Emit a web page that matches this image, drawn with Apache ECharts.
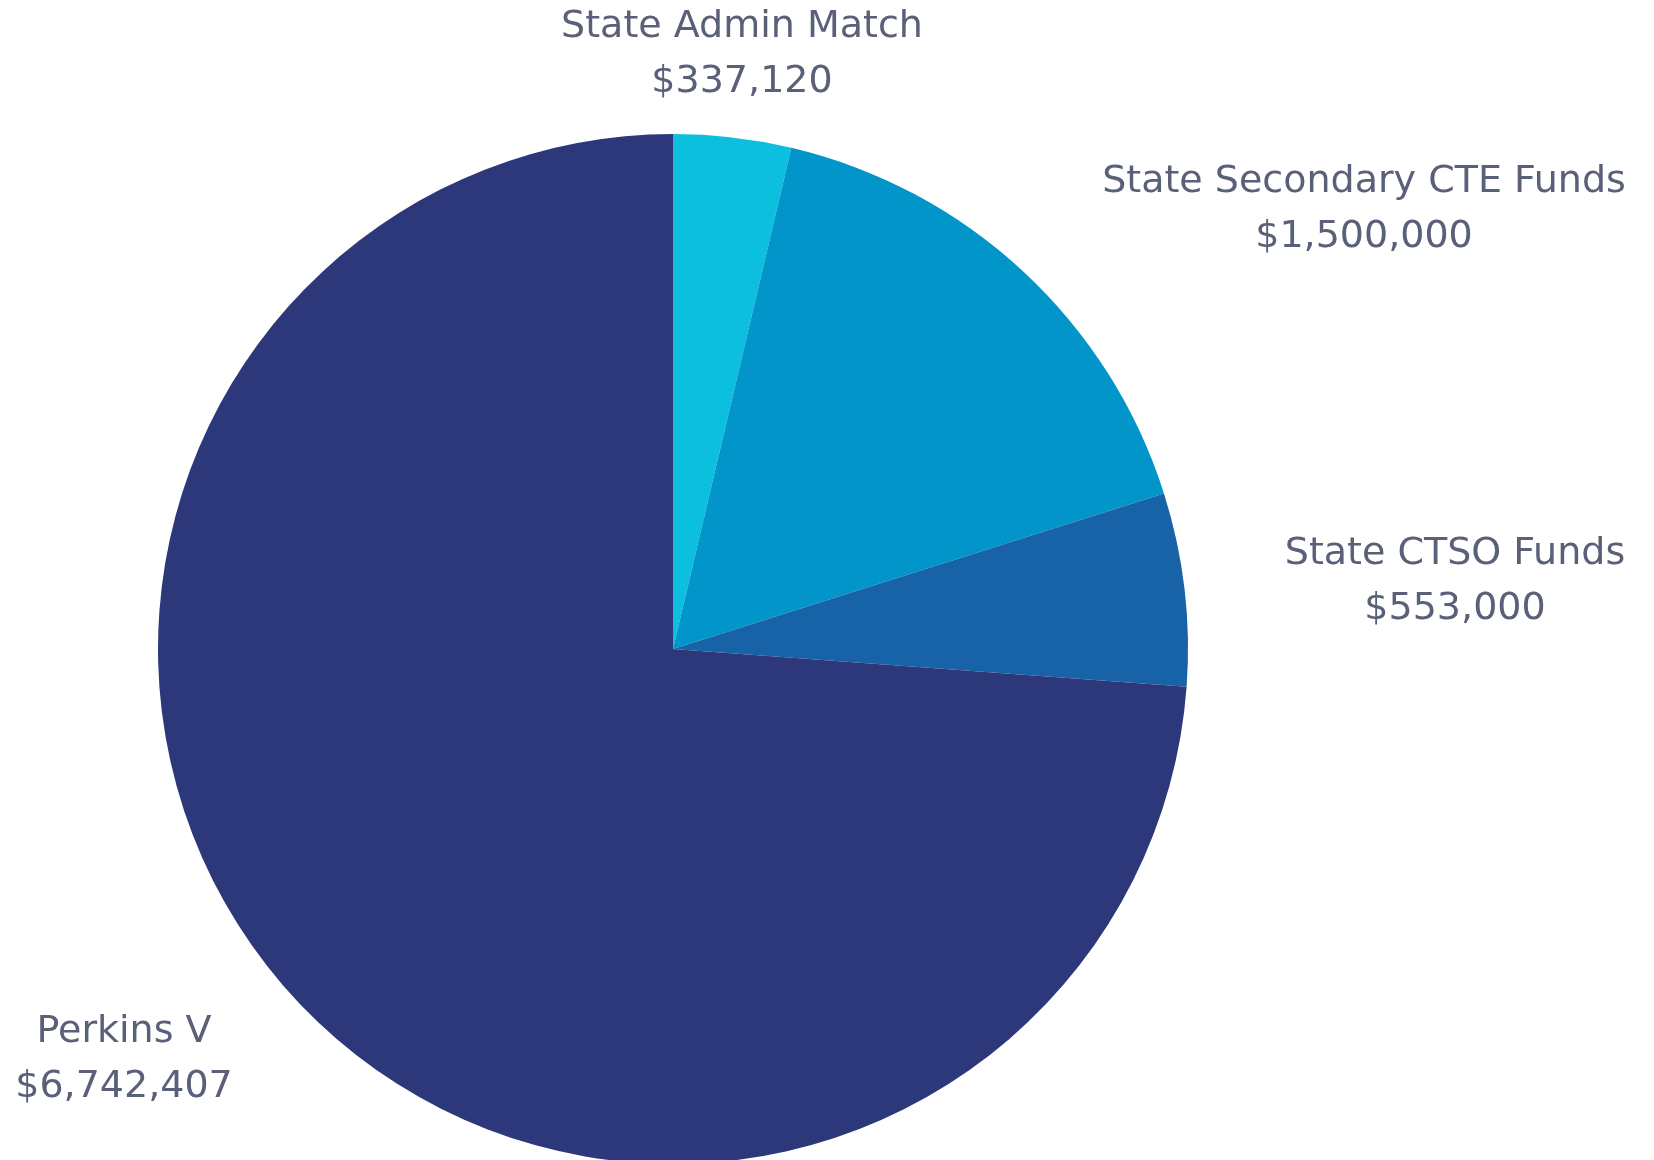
<!DOCTYPE html>
<html>
<head>
<meta charset="utf-8">
<script src="https://cdn.jsdelivr.net/npm/echarts@6/dist/echarts.min.js"></script>
<style>
  html, body { margin: 0; padding: 0; background: #fff; }
  #chart { width: 1654px; height: 1160px; }
</style>
</head>
<body>
<div id="chart"></div>
<script>
// funding sources, clockwise from 12 o'clock
const categories = ['State Admin Match', 'State Secondary CTE Funds', 'State CTSO Funds', 'Perkins V'];
const amounts = [337120, 1500000, 553000, 6742407];
const colors = ['#0cbfdf', '#0195c9', '#1863a7', '#2d387b'];

// where each label sits (center of the two-line block)
const labelSpots = [
    [742, 55],
    [1364, 210],
    [1455, 582],
    [124, 1060]
];

const myChart = echarts.init(document.getElementById('chart'));

const option = {
    animation: false,
    series: [{
        type: 'pie',
        center: [673, 649],
        radius: 515,
        startAngle: 90,
        clockwise: true,
        silent: true,
        data: categories.map((name, i) => ({
            name: name,
            value: amounts[i],
            itemStyle: { color: colors[i] }
        })),
        label: {
            show: true,
            position: 'outside',
            formatter: p => p.name + '\n$' + p.value.toLocaleString('en-US'),
            color: '#5b6079',
            fontFamily: 'DejaVu Sans',
            fontSize: 38,
            lineHeight: 55,
            align: 'center'
        },
        labelLine: { show: false },
        labelLayout: params => {
            const spot = labelSpots[params.dataIndex];
            return {
                x: spot[0],
                y: spot[1],
                align: 'center',
                verticalAlign: 'middle'
            };
        }
    }]
};

myChart.setOption(option);
</script>
</body>
</html>
